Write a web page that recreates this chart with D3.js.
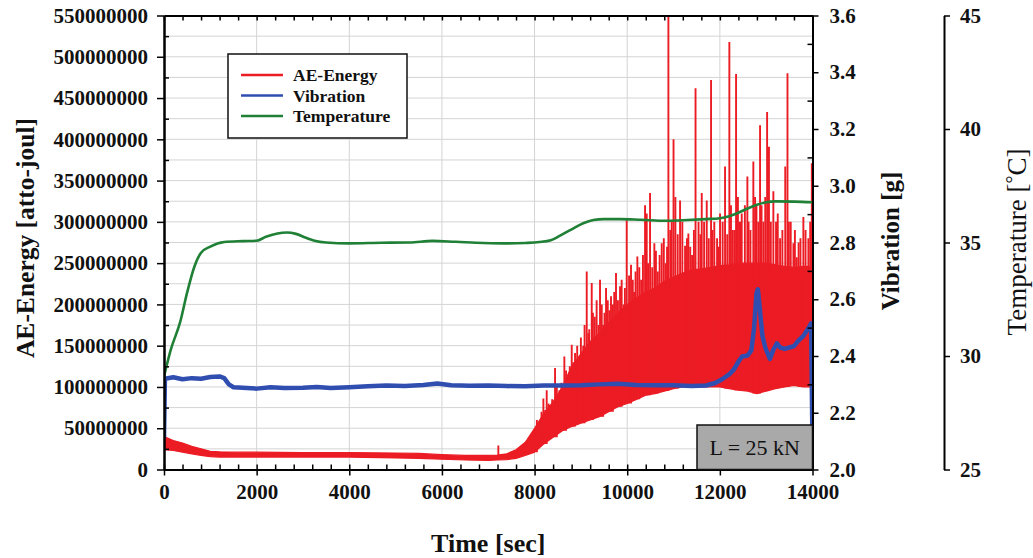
<!DOCTYPE html>
<html>
<head>
<meta charset="utf-8">
<script src="https://cdn.jsdelivr.net/npm/d3@7"></script>
<style>
  html, body { margin: 0; padding: 0; background: #fff; }
  svg { display: block; }
  text { font-family: "Liberation Serif", "Times New Roman", serif; }
</style>
</head>
<body>
<svg id="chart" width="1033" height="558"></svg>
<script>
// ---------------- Data ----------------
// AE energy: dense band (lower / upper envelope) sampled over time [sec], values in atto-joule
const redTime = [0, 200, 400, 600, 800, 1000, 1200, 1600, 2000, 3000, 4000, 5000, 5500, 6000, 6500, 7000, 7200,
  7400, 7600, 7800, 8000, 8200, 8400, 8600, 8800, 9000, 9200, 9400, 9600, 9800, 10000, 10200, 10400, 10600,
  10800, 11000, 11200, 11400, 11600, 11800, 12000, 12200, 12400, 12600, 12800, 13000, 13200, 13400, 13600,
  13800, 14000];
const redLow = [24e6, 23e6, 21e6, 19e6, 17e6, 15.5e6, 15e6, 15e6, 15e6, 15e6, 15e6, 14e6, 13.5e6, 12.5e6, 11.5e6,
  11e6, 11.5e6, 12e6, 13.5e6, 17e6, 21e6, 31e6, 39e6, 47e6, 52e6, 56e6, 60e6, 64e6, 70e6, 76e6, 80e6, 85e6,
  90e6, 92e6, 95e6, 98e6, 100e6, 102e6, 100e6, 100e6, 100e6, 98e6, 96e6, 95e6, 92e6, 95e6, 98e6, 100e6,
  102e6, 100e6, 100e6];
const redHigh = [40e6, 35e6, 32e6, 28e6, 25e6, 22e6, 21.5e6, 21e6, 21e6, 20.5e6, 20.5e6, 20e6, 19.5e6, 18e6,
  17e6, 17e6, 17.5e6, 19e6, 24e6, 33e6, 50e6, 68e6, 82e6, 100e6, 125e6, 140e6, 155e6, 165e6, 178e6, 190e6,
  200e6, 208e6, 215e6, 220e6, 228e6, 233e6, 238e6, 242e6, 243e6, 245e6, 247e6, 248e6, 250e6, 250e6, 250e6,
  250e6, 248e6, 246e6, 245e6, 246e6, 246e6];

// AE energy: individual bursts rising above the band
const spikeTime = [7218, 8050, 8100, 8150, 8190, 8230, 8262, 8300, 8330, 8380, 8442, 8480, 8535, 8580, 8643,
  8680, 8720, 8760, 8802, 8840, 8874, 8920, 8950, 9000, 9050, 9080, 9126, 9160, 9180, 9234, 9260, 9300, 9340,
  9380, 9413, 9450, 9480, 9510, 9543, 9580, 9615, 9650, 9690, 9720, 9758, 9800, 9845, 9880, 9920, 9950, 9989,
  10040, 10082, 10120, 10150, 10180, 10219, 10260, 10300, 10340, 10385, 10421, 10450, 10493, 10540, 10586,
  10620, 10660, 10700, 10745, 10790, 10830, 10860, 10889, 10930, 10960, 11000, 11040, 11090, 11141, 11190,
  11249, 11290, 11320, 11360, 11400, 11440, 11475, 11540, 11580, 11609, 11660, 11717, 11760, 11810, 11840,
  11880, 11940, 11980, 12004, 12060, 12112, 12160, 12205, 12240, 12280, 12320, 12350, 12390, 12420, 12450,
  12472, 12540, 12594, 12620, 12660, 12723, 12760, 12790, 12830, 12868, 12900, 12940, 12980, 13020, 13060,
  13100, 13155, 13213, 13250, 13300, 13350, 13412, 13460, 13490, 13530, 13588, 13620, 13660, 13700, 13740,
  13803, 13850, 13911, 13950, 13985];
const spikePeak = [29e6, 60e6, 55e6, 70e6, 86e6, 72e6, 96e6, 80e6, 78e6, 85e6, 123e6, 100e6, 96e6, 105e6,
  137e6, 120e6, 110e6, 125e6, 151e6, 130e6, 141e6, 150e6, 130e6, 160e6, 150e6, 175e6, 240e6, 165e6, 170e6,
  226e6, 190e6, 185e6, 205e6, 175e6, 230e6, 200e6, 175e6, 190e6, 220e6, 205e6, 193e6, 210e6, 200e6, 215e6,
  238e6, 205e6, 222e6, 230e6, 200e6, 220e6, 302e6, 235e6, 248e6, 230e6, 215e6, 240e6, 258e6, 245e6, 230e6,
  260e6, 320e6, 310e6, 250e6, 335e6, 245e6, 274e6, 265e6, 240e6, 260e6, 274e6, 280e6, 250e6, 270e6, 550e6,
  290e6, 300e6, 400e6, 330e6, 285e6, 326e6, 300e6, 271e6, 280e6, 286e6, 270e6, 260e6, 290e6, 462e6, 300e6,
  285e6, 335e6, 300e6, 326e6, 280e6, 472e6, 290e6, 300e6, 280e6, 270e6, 310e6, 300e6, 367e6, 285e6, 518e6,
  320e6, 290e6, 290e6, 479e6, 330e6, 300e6, 300e6, 310e6, 320e6, 355e6, 300e6, 290e6, 373e6, 330e6, 320e6,
  300e6, 417e6, 320e6, 300e6, 330e6, 433e6, 391e6, 300e6, 337e6, 300e6, 310e6, 280e6, 290e6, 367e6, 480e6,
  300e6, 300e6, 274e6, 290e6, 257e6, 275e6, 280e6, 306e6, 290e6, 280e6, 300e6, 371e6];

// Vibration [g]
const vibTime = [0, 20, 200, 400, 600, 800, 1000, 1200, 1300, 1400, 1500, 1700, 2000, 2300, 2600, 3000, 3300,
  3600, 4000, 4400, 4800, 5200, 5600, 5900, 6200, 6600, 7000, 7400, 7800, 8200, 8600, 9000, 9400, 9800,
  10200, 10600, 11000, 11400, 11700, 11900, 12050, 12200, 12300, 12420, 12480, 12600, 12680, 12740, 12790,
  12820, 12860, 12920, 12980, 13080, 13150, 13230, 13300, 13400, 13500, 13600, 13700, 13800, 13900, 13970,
  14000];
const vibValue = [2.11, 2.32, 2.325, 2.318, 2.322, 2.320, 2.326, 2.328, 2.322, 2.300, 2.290, 2.288, 2.285,
  2.290, 2.287, 2.288, 2.291, 2.287, 2.290, 2.293, 2.296, 2.294, 2.298, 2.303, 2.297, 2.295, 2.296, 2.294,
  2.293, 2.296, 2.296, 2.297, 2.300, 2.302, 2.298, 2.297, 2.297, 2.294, 2.296, 2.305, 2.318, 2.335, 2.352,
  2.385, 2.398, 2.402, 2.42, 2.50, 2.62, 2.635, 2.57, 2.47, 2.43, 2.39, 2.42, 2.445, 2.43, 2.425, 2.43, 2.435,
  2.455, 2.47, 2.495, 2.515, 2.08];

// Temperature [°C]
const tempTime = [0, 150, 350, 500, 650, 800, 1000, 1300, 1700, 2000, 2200, 2450, 2650, 2850, 3050, 3250, 3500,
  4000, 4700, 5300, 5800, 6300, 6900, 7400, 7800, 8100, 8350, 8550, 8800, 9050, 9270, 9500, 9850, 10300,
  10850, 11300, 11700, 12000, 12200, 12400, 12600, 12800, 13000, 13200, 13600, 14000];
const tempValue = [29.1, 30.3, 31.5, 32.8, 33.9, 34.55, 34.82, 35.02, 35.06, 35.08, 35.25, 35.4, 35.44, 35.38,
  35.22, 35.08, 35.0, 34.96, 34.99, 35.0, 35.07, 35.03, 34.98, 34.96, 34.98, 35.02, 35.1, 35.3, 35.58, 35.85,
  35.99, 36.03, 36.03, 36.0, 35.96, 35.99, 36.03, 36.07, 36.16, 36.31, 36.5, 36.66, 36.77, 36.81, 36.8, 36.77];

// Axis ticks
const timeTicks = [0, 2000, 4000, 6000, 8000, 10000, 12000, 14000];
const energyTicks = [0, 50e6, 100e6, 150e6, 200e6, 250e6, 300e6, 350e6, 400e6, 450e6, 500e6, 550e6];
const vibTicks = [2.0, 2.2, 2.4, 2.6, 2.8, 3.0, 3.2, 3.4, 3.6];
const tempTicks = [25, 30, 35, 40, 45];

const seriesNames = ["AE-Energy", "Vibration", "Temperature"];
const seriesColors = ["#ec1c24", "#2f4eb0", "#1f8036"];

// ---------------- Layout ----------------
const svg = d3.select("#chart");
const L = 164, R = 812.5, T = 15.5, B = 469.5;

const x = d3.scaleLinear().domain([0, 14000]).range([L, R]);
const yE = d3.scaleLinear().domain([0, 550e6]).range([B, T]);
const yV = d3.scaleLinear().domain([2.0, 3.6]).range([B, T]);
const yT = d3.scaleLinear().domain([25, 45]).range([B, T]);

svg.append("rect").attr("width", 1033).attr("height", 558).attr("fill", "#fff");

svg.append("defs").append("clipPath").attr("id", "plotClip")
  .append("rect").attr("x", L).attr("y", T).attr("width", R - L).attr("height", B - T);

// Grid
const grid = svg.append("g").attr("stroke", "#d4d4d4").attr("stroke-width", 1);
grid.selectAll("line.h").data(d3.range(25e6, 550e6, 25e6)).join("line")
  .attr("x1", L).attr("x2", R).attr("y1", d => yE(d)).attr("y2", d => yE(d));
grid.selectAll("line.v").data(timeTicks.slice(1, -1)).join("line")
  .attr("y1", T).attr("y2", B).attr("x1", d => x(d)).attr("x2", d => x(d));

const plot = svg.append("g").attr("clip-path", "url(#plotClip)");

// AE energy band
const band = redTime.map((t, i) => ({ t, lo: redLow[i], hi: redHigh[i] }));
plot.append("path").datum(band)
  .attr("fill", seriesColors[0]).attr("stroke", seriesColors[0]).attr("stroke-width", 1.2)
  .attr("d", d3.area().x(d => x(d.t)).y0(d => yE(d.lo)).y1(d => yE(d.hi)));

// AE energy bursts
const bis = d3.bisector(d => d.t).center;
const spikes = spikeTime.map((t, i) => ({ t, peak: spikePeak[i], base: band[bis(band, t)].lo }));
plot.selectAll("line.spike").data(spikes).join("line")
  .attr("stroke", seriesColors[0]).attr("stroke-width", 1.9)
  .attr("x1", d => x(d.t)).attr("x2", d => x(d.t))
  .attr("y1", d => yE(d.base)).attr("y2", d => yE(d.peak));

// Vibration
const vib = vibTime.map((t, i) => ({ t, v: vibValue[i] }));
plot.append("path").datum(vib)
  .attr("fill", "none").attr("stroke", seriesColors[1]).attr("stroke-width", 4.5)
  .attr("stroke-linejoin", "round")
  .attr("d", d3.line().x(d => x(d.t)).y(d => yV(d.v)));

// Temperature
const temp = tempTime.map((t, i) => ({ t, v: tempValue[i] }));
plot.append("path").datum(temp)
  .attr("fill", "none").attr("stroke", seriesColors[2]).attr("stroke-width", 2.6)
  .attr("d", d3.line().curve(d3.curveMonotoneX).x(d => x(d.t)).y(d => yT(d.v)));

// ---------------- Axes ----------------
const fmtInt = d3.format("d");
function styleAxis(g, fs) {
  g.select(".domain").attr("stroke", "#000").attr("stroke-width", 2);
  g.selectAll(".tick line").attr("stroke", "#000").attr("stroke-width", 1.5);
  g.selectAll(".tick text").attr("fill", "#111").attr("font-size", fs || 21).attr("font-weight", "bold")
    .attr("font-family", '"Liberation Serif", "Times New Roman", serif');
  g.attr("font-family", null).attr("font-size", null);
}

// frame: top
svg.append("g").attr("transform", `translate(0,${T})`)
  .call(d3.axisTop(x).tickValues(d3.range(0, 14001, 400)).tickSize(-5).tickSizeOuter(0).tickFormat(""))
  .call(g => styleAxis(g));
// bottom minor ticks
svg.append("g").attr("transform", `translate(0,${B})`)
  .call(d3.axisBottom(x).tickValues(d3.range(0, 14001, 400)).tickSize(-5).tickSizeOuter(0).tickFormat(""))
  .call(g => styleAxis(g));
// bottom major
svg.append("g").attr("transform", `translate(0,${B})`)
  .call(d3.axisBottom(x).tickValues(timeTicks).tickSize(6).tickSizeOuter(0).tickPadding(9).tickFormat(fmtInt))
  .call(g => styleAxis(g));

// left minor / major
svg.append("g").attr("transform", `translate(${L},0)`)
  .call(d3.axisLeft(yE).tickValues(d3.range(25e6, 550e6, 50e6)).tickSize(-5).tickSizeOuter(0).tickFormat(""))
  .call(g => styleAxis(g));
svg.append("g").attr("transform", `translate(${L},0)`)
  .call(d3.axisLeft(yE).tickValues(energyTicks).tickSize(7).tickSizeOuter(0).tickPadding(9).tickFormat(fmtInt))
  .call(g => styleAxis(g));

// right vibration axis
svg.append("g").attr("transform", `translate(${R},0)`)
  .call(d3.axisRight(yV).tickValues(d3.range(2.1, 3.6, 0.2)).tickSize(-5).tickSizeOuter(0).tickFormat(""))
  .call(g => styleAxis(g));
svg.append("g").attr("transform", `translate(${R},0)`)
  .call(d3.axisRight(yV).tickValues(vibTicks).tickSize(6).tickSizeOuter(0).tickPadding(11).tickFormat(d3.format(".1f")))
  .call(g => styleAxis(g));

// temperature axis
svg.append("g").attr("transform", `translate(944,0)`)
  .call(d3.axisRight(yT).tickValues(tempTicks).tickSize(6).tickSizeOuter(0).tickPadding(10).tickFormat(fmtInt))
  .call(g => styleAxis(g));

// ---------------- Titles ----------------
svg.append("text").attr("transform", "translate(34,238) rotate(-90)")
  .attr("text-anchor", "middle").attr("font-weight", "bold").attr("font-size", 25.5).attr("fill", "#111")
  .text("AE-Energy [atto-joul]");
svg.append("text").attr("transform", "translate(899,241) rotate(-90)")
  .attr("text-anchor", "middle").attr("font-weight", "bold").attr("font-size", 25).attr("fill", "#111")
  .text("Vibration [g]");
const tt = svg.append("text").attr("transform", "translate(1026,242) rotate(-90)")
  .attr("text-anchor", "middle").attr("font-size", 27).attr("fill", "#111");
tt.append("tspan").text("Temperature [");
tt.append("tspan").attr("font-size", 20).attr("dy", -6).text("°");
tt.append("tspan").attr("dy", 6).text("C]");
svg.append("text").attr("x", (L + R) / 2).attr("y", 552)
  .attr("text-anchor", "middle").attr("font-weight", "bold").attr("font-size", 26).attr("fill", "#111")
  .text("Time [sec]");

// ---------------- Legend ----------------
const lg = svg.append("g").attr("transform", "translate(228,54)");
lg.append("rect").attr("width", 179).attr("height", 84).attr("fill", "#fff")
  .attr("stroke", "#111").attr("stroke-width", 1.5);
const rows = lg.selectAll("g.row").data(seriesNames).join("g")
  .attr("transform", (d, i) => `translate(0,${21 + i * 20.5})`);
rows.append("line").attr("x1", 13).attr("x2", 55).attr("stroke", (d, i) => seriesColors[i]).attr("stroke-width", 2.5);
rows.append("text").attr("x", 65).attr("y", 6).attr("font-size", 17.5).attr("font-weight", "bold")
  .attr("fill", "#111").text(d => d);

// ---------------- Load annotation ----------------
const ann = svg.append("g");
ann.append("rect").attr("x", 697).attr("y", 425).attr("width", R - 697).attr("height", B - 425)
  .attr("fill", "#a9a9a9").attr("stroke", "#111").attr("stroke-width", 1.5);
ann.append("text").attr("x", (697 + R) / 2).attr("y", 455).attr("text-anchor", "middle")
  .attr("font-size", 22).attr("fill", "#111").text("L = 25 kN");
</script>
</body>
</html>
